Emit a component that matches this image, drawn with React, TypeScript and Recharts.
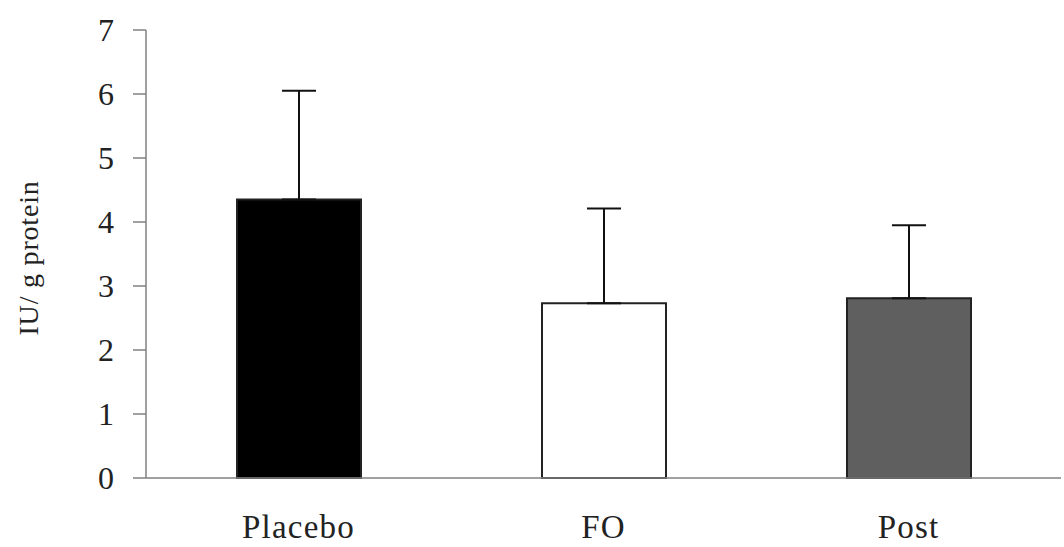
import { BarChart, Bar, XAxis, YAxis, ErrorBar, Cell } from "recharts";

const groups = ["Placebo", "FO", "Post"];
const means = [4.35, 2.73, 2.81];
const sd = [1.7, 1.48, 1.14];
const fills = ["#000000", "#ffffff", "#5f5f5f"];
const yTicks = [0, 1, 2, 3, 4, 5, 6, 7];

const data = groups.map((name, i) => ({
  name,
  value: means[i],
  err: [0, sd[i]],
}));

const serif = "'Liberation Serif', 'DejaVu Serif', serif";

export default function App() {
  return (
    <div style={{ position: "absolute", left: 0, top: 0, background: "#fff" }}>
      <BarChart
        width={1064}
        height={547}
        data={data}
        margin={{ top: 30, right: 3, left: 0, bottom: 0 }}
        barCategoryGap={0}
      >
        <XAxis
          dataKey="name"
          height={69}
          tickLine={false}
          tickSize={0}
          tickMargin={37}
          axisLine={{ stroke: "#808080", strokeWidth: 1.5 }}
          tick={{ fontSize: 33, fill: "#222", fontFamily: serif, letterSpacing: 1.2 }}
        />
        <YAxis
          width={146}
          domain={[0, 7]}
          ticks={yTicks}
          interval={0}
          tickSize={13}
          tickMargin={19}
          tickLine={{ stroke: "#808080", strokeWidth: 1.5 }}
          axisLine={{ stroke: "#808080", strokeWidth: 1.5 }}
          tick={{ fontSize: 32, fill: "#222", fontFamily: serif }}
          label={{
            value: "IU/ g protein",
            angle: -90,
            position: "insideLeft",
            offset: 28,
            dy: 4,
            style: {
              textAnchor: "middle",
              fontSize: 28,
              fill: "#222",
              fontFamily: serif,
              letterSpacing: 0.8,
            },
          }}
        />
        <Bar
          dataKey="value"
          barSize={124}
          stroke="#222"
          strokeWidth={2}
          isAnimationActive={false}
        >
          {data.map((d, i) => (
            <Cell key={d.name} fill={fills[i]} />
          ))}
          <ErrorBar
            dataKey="err"
            width={17}
            stroke="#111"
            strokeWidth={2}
            direction="y"
            isAnimationActive={false}
          />
        </Bar>
      </BarChart>
    </div>
  );
}
